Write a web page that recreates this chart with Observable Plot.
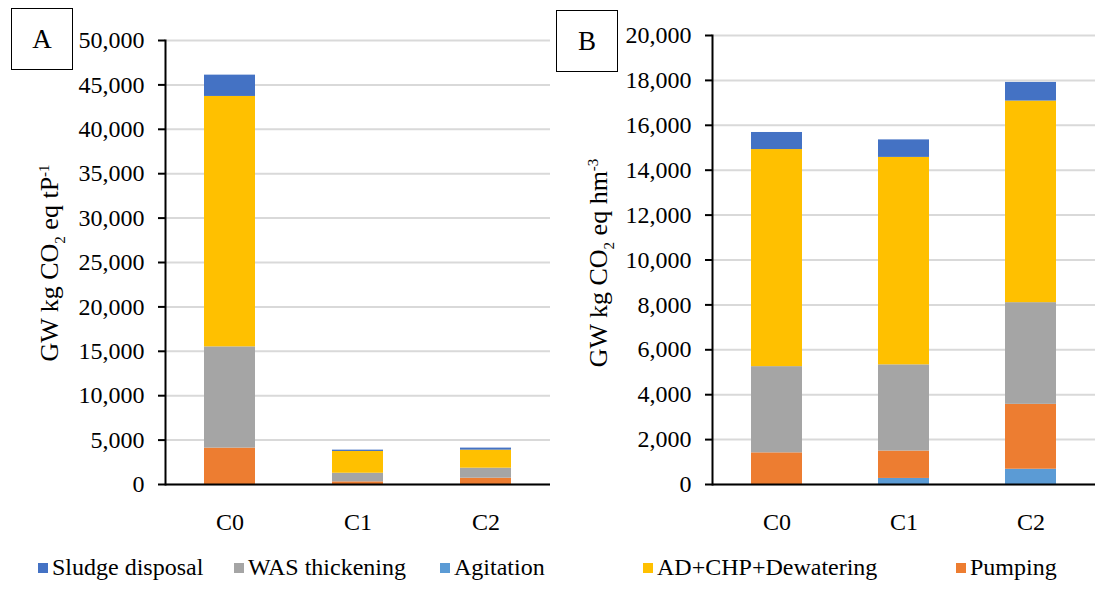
<!DOCTYPE html>
<html>
<head>
<meta charset="utf-8">
<script src="https://cdn.jsdelivr.net/npm/d3@7"></script>
<script src="https://cdn.jsdelivr.net/npm/@observablehq/plot@0.6"></script>
<style>
  html, body { margin: 0; padding: 0; background: #fff; }
  #root { position: relative; width: 1105px; height: 590px; overflow: hidden; font-family: "Liberation Serif", "DejaVu Serif", serif; color: #000; }
  #root svg, #root svg text { font-family: "Liberation Serif", "DejaVu Serif", serif !important; }
  .panel { position: absolute; top: 0; }
  .tag { position: absolute; border: 1.5px solid #000; box-sizing: border-box; font-family: "Liberation Serif", serif; font-size: 27px; display: flex; align-items: center; justify-content: center; background: #fff; }
  .ytitle { position: absolute; white-space: nowrap; font-family: "Liberation Serif", serif; font-size: 26px; transform: translate(-50%, -50%) rotate(-90deg); }
  .ytitle sub, .ytitle sup { font-size: 15px; }
  .leg { position: absolute; top: 554px; font-family: "Liberation Serif", serif; font-size: 24px; white-space: nowrap; display: flex; align-items: center; }
  .leg span.sw { display: inline-block; width: 10px; height: 10px; margin-right: 4px; }
</style>
</head>
<body>
<div id="root"></div>
<script>
const categories = ["C0", "C1", "C2"];
const seriesNames = ["Agitation", "Pumping", "WAS thickening", "AD+CHP+Dewatering", "Sludge disposal"];
const seriesColors = ["#5B9BD5", "#ED7D31", "#A5A5A5", "#FFC000", "#4472C4"];

// Panel A: GW kg CO2 eq tP-1 (bottom to top)
const aAgitation = [0, 0, 0];
const aPumping = [4100, 300, 710];
const aWAS = [11400, 970, 1130];
const aAD = [28200, 2450, 2030];
const aSludge = [2400, 150, 230];
const aTicks = [0, 5000, 10000, 15000, 20000, 25000, 30000, 35000, 40000, 45000, 50000];

// Panel B: GW kg CO2 eq hm-3 (bottom to top)
const bAgitation = [0, 270, 680];
const bPumping = [1410, 1220, 2890];
const bWAS = [3840, 3840, 4530];
const bAD = [9670, 9240, 8980];
const bSludge = [760, 780, 830];
const bTicks = [0, 2000, 4000, 6000, 8000, 10000, 12000, 14000, 16000, 18000, 20000];

const legendOrder = ["Sludge disposal", "WAS thickening", "Agitation", "AD+CHP+Dewatering", "Pumping"];

function toRows(arrs) {
  const rows = [];
  seriesNames.forEach((s, si) => {
    categories.forEach((c, ci) => rows.push({ cat: c, series: s, value: arrs[si][ci] }));
  });
  return rows;
}

const root = document.getElementById("root");

function makePanel({ rows, ticks, left, width, marginLeft, marginTop, yMax }) {
  const chart = Plot.plot({
    width, height: 545,
    marginLeft, marginRight: 10, marginTop, marginBottom: 61,
    style: { fontFamily: "Liberation Serif, DejaVu Serif, serif", fontSize: "24px", color: "#000", background: "transparent", overflow: "visible" },
    x: { domain: categories, paddingInner: 0.6, paddingOuter: 0.3, label: null },
    y: { domain: [0, yMax], label: null },
    color: { domain: seriesNames, range: seriesColors },
    marks: [
      Plot.gridY(ticks, { stroke: "#d9d9d9", strokeOpacity: 1, strokeWidth: 2 }),
      Plot.barY(rows, { x: "cat", y: "value", fill: "series", order: seriesNames }),
      Plot.ruleY([0], { stroke: "#000", strokeWidth: 2 }),
      Plot.frame({ anchor: "left", stroke: "#000", strokeWidth: 2 }),
      Plot.axisY(ticks, { tickFormat: d3.format(","), tickSize: 7, tickPadding: 14, strokeWidth: 2, label: null }),
      Plot.axisX({ tickSize: 0, tickPadding: 28, label: null })
    ]
  });
  const wrap = document.createElement("div");
  wrap.className = "panel";
  wrap.style.left = left + "px";
  wrap.appendChild(chart);
  root.appendChild(wrap);
}

makePanel({ rows: toRows([aAgitation, aPumping, aWAS, aAD, aSludge]), ticks: aTicks, left: 0, width: 560, marginLeft: 165, marginTop: 40, yMax: 50000 });
makePanel({ rows: toRows([bAgitation, bPumping, bWAS, bAD, bSludge]), ticks: bTicks, left: 560, width: 545, marginLeft: 152, marginTop: 35, yMax: 20000 });

function addTag(txt, x, y) {
  const d = document.createElement("div");
  d.className = "tag";
  d.style.left = x + "px"; d.style.top = y + "px";
  d.style.width = "62px"; d.style.height = "62px";
  d.textContent = txt;
  root.appendChild(d);
}
addTag("A", 11, 8);
addTag("B", 556, 10);

function addTitle(html, x, y) {
  const d = document.createElement("div");
  d.className = "ytitle";
  d.style.left = x + "px"; d.style.top = y + "px";
  d.innerHTML = html;
  root.appendChild(d);
}
addTitle("GW kg CO<sub>2</sub> eq tP<sup>-1</sup>", 52, 263);
addTitle("GW kg CO<sub>2</sub> eq hm<sup>-3</sup>", 601, 263);

const legendX = [38, 234, 440, 643, 956];
legendOrder.forEach((name, i) => {
  const d = document.createElement("div");
  d.className = "leg";
  d.style.left = legendX[i] + "px";
  const sw = document.createElement("span");
  sw.className = "sw";
  sw.style.background = seriesColors[seriesNames.indexOf(name)];
  d.appendChild(sw);
  d.appendChild(document.createTextNode(name));
  root.appendChild(d);
});
</script>
</body>
</html>
